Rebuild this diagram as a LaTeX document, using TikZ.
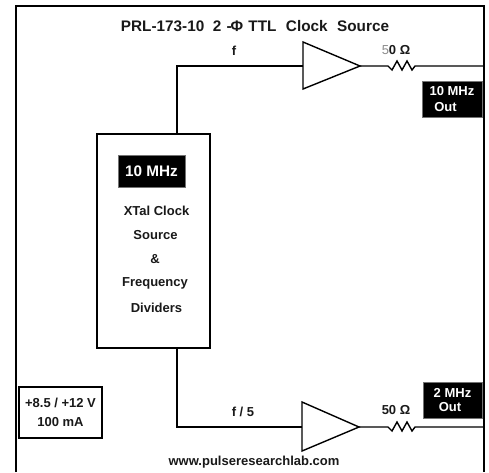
\documentclass[tikz,border=0pt]{standalone}
\usepackage{fontspec}
\setmainfont{Liberation Sans}[BoldFont={Liberation Sans Bold}]
\tikzset{
  x=1pt,y=-1pt,
  wire/.style={line width=1.4pt,line join=miter},
  txt/.style={font=\bfseries\fontsize{13}{15}\selectfont,text=black!90,inner sep=0pt,align=center},
  amp/.style={line width=1.4pt,fill=white,line join=miter},
  blk/.style={fill=black,draw=black!55,line width=.4pt,text=white,inner sep=0pt,align=center,font=\bfseries\fontsize{13}{15}\selectfont},
  boxed/.style={draw=black,line width=1.5pt,fill=white,inner sep=0pt},
}
\begin{document}
\begin{tikzpicture}
\useasboundingbox (0,0) rectangle (489,472);
\fill[white] (0,0) rectangle (489,472);
% frame
\draw[line width=1.6pt] (16,472) -- (16,6) -- (484,6) -- (484,472);
% named points
\coordinate (ctop) at (177,66);
\coordinate (cbot) at (177,427);
\coordinate (a1in) at (303,66);
\coordinate (a1t) at (303,42);
\coordinate (a1b) at (303,89);
\coordinate (a1out) at (360,66);
\coordinate (r1a) at (388,66);
\coordinate (r1b) at (416,66);
\coordinate (o1) at (484,66);
\coordinate (a2in) at (302,427);
\coordinate (a2t) at (302,402);
\coordinate (a2b) at (302,451);
\coordinate (a2out) at (359,427);
\coordinate (r2a) at (388,427);
\coordinate (r2b) at (415,427);
\coordinate (o2) at (484,427);
% main box
\node[boxed,minimum width=113pt,minimum height=214pt] (src) at (153.5,241) {};
\node[blk,minimum width=67pt,minimum height=32pt,font=\bfseries\fontsize{15.3}{17}\selectfont] (freq) at (151.5,171) {10 MHz};
\node[txt] (l1) at (156.5,210.5) {XTal Clock};
\node[txt] (l2) at (155.5,235) {Source};
\node[txt] (l3) at (155,259.5) {\&};
\node[txt] (l4) at (155,283.5) {Frequency};
\node[txt] (l5) at (156.5,307.5) {Dividers};
% wires
\draw[wire] (ctop |- src.north) -- (ctop) -- (a1in);
\draw[wire] (cbot |- src.south) -- (cbot) -- (a2in);
\draw[amp] (a1t) -- (a1out) -- (a1b) -- cycle;
\draw[amp] (a2t) -- (a2out) -- (a2b) -- cycle;
\draw[wire] (a1out) -- (r1a) -- ++(4,4) -- ++(5,-9) -- ++(5,9) -- ++(5,-9) -- ++(5,9) -- ++(3,-4) -- (r1b) -- (o1);
\draw[wire] (a2out) -- (r2a) -- ++(4,4) -- ++(5,-9) -- ++(5,9) -- ++(5,-9) -- ++(5,9) -- ++(3,-4) -- (r2b) -- (o2);
% outputs
\node[blk,minimum width=60pt,minimum height=36pt] (out1) at (452,99) {10 MHz\\[0.5pt]Out\rule{13pt}{0pt}};
\node[blk,minimum width=59pt,minimum height=36pt] (out2) at (452.5,400) {2 MHz\\[-1pt]Out\rule{5pt}{0pt}};
% supply
\node[boxed,minimum width=83pt,minimum height=51pt,txt,align=center] (pwr) at (60.5,412.5) {+8.5 / +12 V\\[4pt]100 mA};
% labels
\node[txt,font=\bfseries\fontsize{15.3}{17}\selectfont] (title) at (255,26) {PRL-173-10\ \ 2\kern1pt\ -\kern-1pt Φ\kern1pt\ TTL\ \ \kern1pt Clock\ \ \kern1pt Source};
\node[txt] (f1) at (234,51) {f};
\node[txt] (f2) at (243,412) {f / 5};
\node[txt] (r1l) at (396,50) {{\mdseries\color{black!45}5}0 Ω};
\node[txt] (r2l) at (396,410) {50 Ω};
\node[txt] (web) at (254,462) {www.pulseresearchlab.com};
\end{tikzpicture}
\end{document}
